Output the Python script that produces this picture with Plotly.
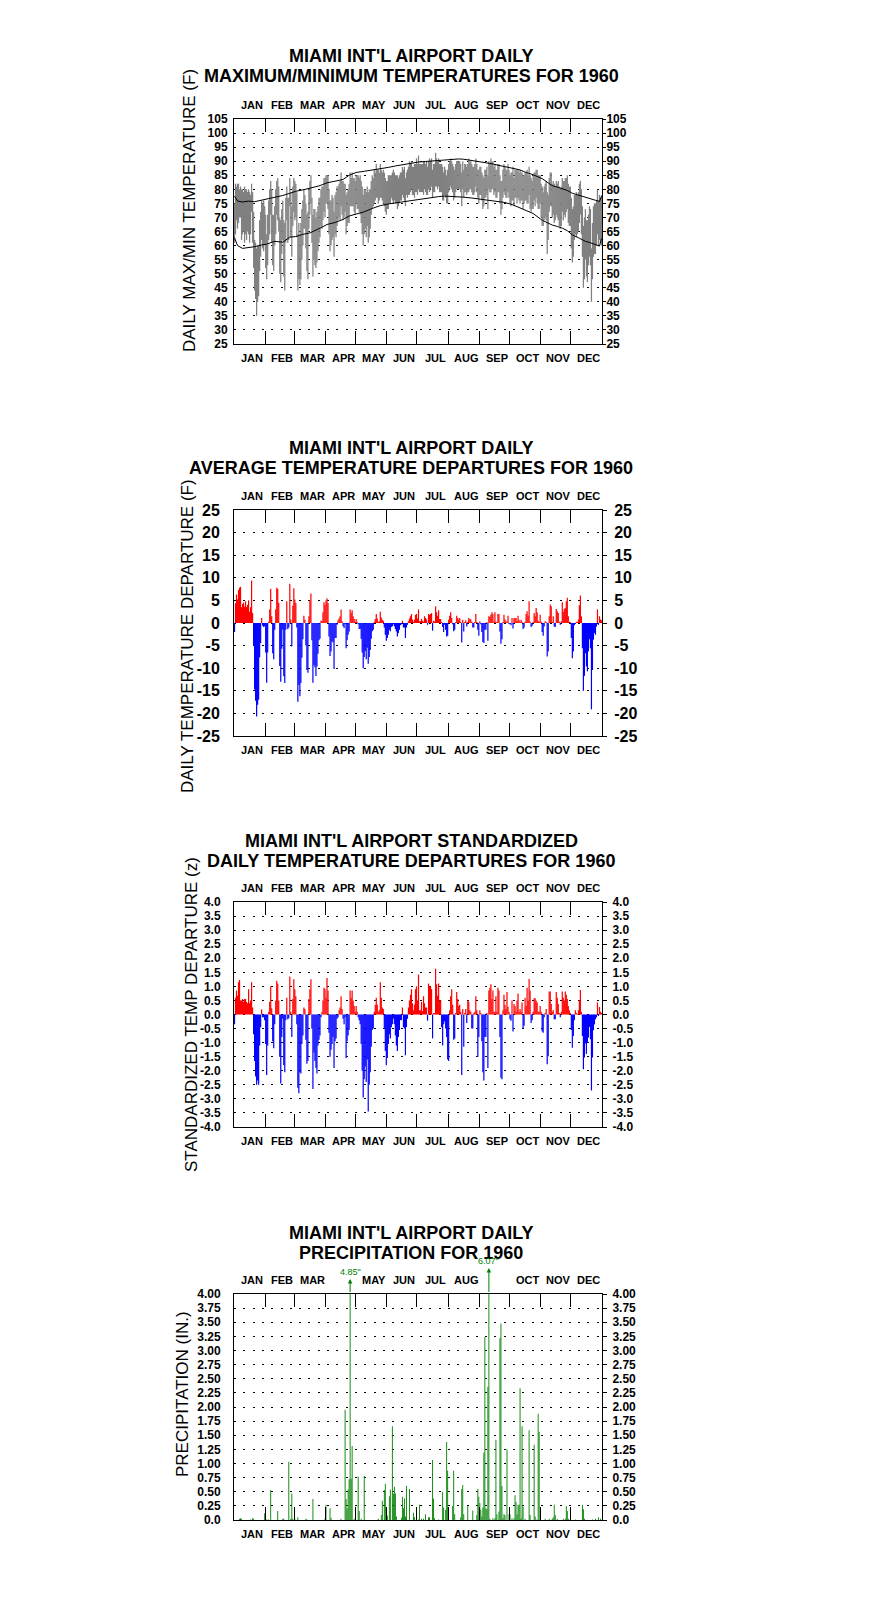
import plotly.graph_objects as go

# ---------------- data ----------------
month_names = ["JAN", "FEB", "MAR", "APR", "MAY", "JUN", "JUL", "AUG", "SEP", "OCT", "NOV", "DEC"]
month_days = [31, 29, 31, 30, 31, 30, 31, 31, 30, 31, 30, 31]

tmax = [75,82,81,82,82,80,81,80,80,79, 81,80,80,79,80,79,78,82,79,72,
        62,61,59,60,60,69,72,76,75,76, 74,71,64,71,76,80,83,80,71,71,
        74,80,83,84,81,70,69,73,76,69, 68,77,81,77,77,84,79,74,81,84,
        83,82,79,64,68,64,68,73,76,80, 78,75,71,72,80,83,85,77,71,73,
        73,70,72,74,77,77,80,81,81,84, 84,85,85,85,80,76,76,78,77,72,
        78,79,81,81,82,83,86,83,83,82, 82,78,79,80,82,86,84,86,84,84,
        83,85,85,85,84,85,83,81,78,80, 80,79,81,79,80,80,83,85,84,87,
        86,89,87,87,86,89,87,86,87,86, 84,83,83,85,85,85,85,86,87,86,
        85,85,85,84,85,86,86,88,87,88, 84,86,87,88,90,89,90,88,88,89,
        89,91,89,92,89,89,89,89,90,90, 89,90,88,90,91,90,91,87,89,89,
        93,91,90,91,89,89,89,88,86,88, 87,85,87,89,90,91,90,89,88,87,
        89,90,90,90,90,89,86,90,87,89, 89,88,89,91,90,90,89,88,88,89,
        91,89,87,87,88,88,86,85,84,87, 87,88,85,90,89,91,90,90,88,89,
        87,87,89,89,85,83,83,87,89,88, 87,87,89,87,85,86,86,88,84,87,
        87,87,87,86,87,86,86,85,85,86, 86,87,85,88,85,84,83,85,86,86,
        87,87,85,85,85,82,81,79,81,82, 83,79,78,84,86,86,82,83,82,81,
        83,82,83,81,80,81,84,83,83,84, 84,85,82,81,81,77,73,74,78,78,
        79,78,79,82,83,80,74,67,70,73, 69,69,71,74,73,59,68,74,75,75,
        76,80,76,78,77,78]

tmin = [61,64,69,66,68,70,70,62,64,65, 61,64,62,65,64,61,64,72,61,52,
        44,41,35,40,42,51,56,62,59,58, 60,52,48,53,62,64,71,61,53,51,
        60,64,71,69,65,50,47,57,62,49, 44,61,69,61,62,74,63,56,67,72,
        69,70,63,44,48,46,48,55,60,66, 66,59,51,48,66,71,75,61,49,55,
        53,52,54,58,61,63,67,66,69,72, 70,75,75,73,64,58,60,62,63,56,
        64,63,67,69,70,69,74,71,69,70, 72,64,67,68,68,74,74,74,74,72,
        71,75,73,73,72,71,68,64,60,64, 66,63,67,61,63,66,71,73,74,75,
        76,77,77,75,76,77,77,76,75,74, 72,71,73,73,75,75,77,76,75,76,
        75,75,73,74,75,76,76,78,77,76, 74,78,77,78,78,79,80,78,78,77,
        79,79,78,80,79,79,79,79,78,80, 79,78,78,80,79,80,81,77,79,79,
        81,81,80,81,79,79,79,76,76,78, 77,75,75,79,80,81,80,79,76,77,
        79,80,80,80,80,79,74,80,77,79, 79,78,79,79,80,80,79,78,78,79,
        81,79,77,75,78,78,76,73,74,77, 77,78,73,80,79,79,80,80,78,79,
        77,77,79,79,75,71,73,77,79,78, 77,77,79,77,75,74,76,76,74,77,
        77,75,77,76,75,76,76,73,75,76, 76,75,75,78,73,72,73,73,76,74,
        77,75,73,73,75,70,67,67,69,70, 69,57,62,72,74,74,70,71,68,69,
        71,70,69,67,66,67,72,69,71,70, 72,73,68,67,67,59,54,56,62,64,
        63,64,65,68,71,64,56,45,48,55, 49,47,53,56,53,40,48,56,57,57,
        60,64,60,62,61,60]

norm_day = [0,3,8,14,20,28,32,40,48,55,61,68,75,84,92,100,108,114,121,129,137,145,153,160,168,176,
            183,190,196,203,209,216,223,228,236,243,250,256,263,269,276,283,290,297,306,312,316,321,
            326,331,336,342,349,354,359,363,365]
norm_max = [77.6,75.8,75.5,75.8,75.6,76.2,76.5,77.2,77.8,78.6,79.3,79.8,80.3,81.2,82.3,82.8,83.5,85.0,
            86.0,86.4,86.8,87.3,87.8,88.3,88.8,89.3,89.7,89.9,90.1,90.4,90.6,90.7,90.8,90.7,90.3,90.0,
            89.5,89.1,88.5,88.0,87.6,87.0,86.0,85.2,83.8,82.3,81.3,80.8,80.2,79.6,78.6,77.9,77.0,76.5,
            76.1,75.7,77.5]
norm_min = [62.8,60.0,59.0,59.2,59.6,60.3,60.5,61.5,61.2,63.0,63.2,64.0,64.5,66.0,67.5,68.2,69.3,70.5,
            71.2,72.0,73.2,74.2,74.8,75.2,75.6,76.0,76.4,76.9,77.2,77.4,77.6,77.5,77.3,77.2,76.9,76.6,
            76.3,76.0,75.6,75.3,74.6,73.6,72.6,71.4,69.0,67.8,67.3,66.8,66.2,65.3,63.8,62.8,61.5,61.0,
            60.3,59.8,62.5]

dep = [-2,4.4,6.3,5.2,7.3,7.8,8.0,3.5,4.2,4.5, 3.6,4.8,3.5,4.0,5.0,2.5,3.5,9.4,2.2,-5,
       -14.7,-17.2,-20.7,-18.1,-17,-7.6,-4.4,1.1,-0.6,-0.9, -0.7,-6.5,-13.2,-6.5,0.3,3.0,7.6,1.5,-6.7,-8.0,
       -1.5,3.0,7.8,7.5,4.5,-9.5,-13,-5.7,-1.5,-11.8, -13.3,-1.5,4.8,-1.3,-1.0,8.7,0.8,-5.2,3.8,7.7,
       5.2,4.4,-1.0,-17.4,-13.7,-16.2,-13.3,-7.7,-3.6,1.6, 0.7,-5,-10.4,-11,1.5,5,6.5,-3.8,-13.2,-9.3,
       -9.8,-11.7,-9.6,-6.8,-3.8,-3.5,0.5,0.5,2.4,4.6, 4.0,5.0,5.5,4.4,-3,-7.3,-6.3,-4.1,-4.3,-10.2,
       -3.3,-3.3,-0.4,0.6,1.0,1.5,3.0,0.4,-0.7,-1.1, -0.2,-5.6,-3.8,-2.6,-1.9,3.0,2.2,2.8,1.5,0.9,
       0.3,0.9,0.3,-0.3,-1.3,-1.3,-3.5,-6.5,-10,-7.5, -6.2,-8,-5.5,-9.0,-7.5,-6.0,-3.5,-1.8,-1.5,0.3,
       0.9,2.0,1.0,0.3,0.4,2.5,1.2,0.7,0.5,-1.0, -2.6,-3.9,-3.3,-2.6,-1.5,-1.8,-0.9,-0.7,-0.3,-0.7,
       -1.3,-1.9,-3.0,-2.2,-1.5,-0.5,-0.3,0.5,-1.0,-1.0, -3.3,-1.0,-0.4,0.4,1.0,1.5,2.0,0.8,0.3,0.7,
       1.8,2.0,1.0,3.0,0.4,0.4,0.9,0.5,0.3,1.5, 1.1,0.8,-0.4,2.0,1.8,2.0,2.2,-1.7,0.5,0.3,
       3.7,2.4,1.6,2.8,0.9,0.9,0.2,-0.9,-2.0,-0.4, -1.5,-3.0,-2.8,0.7,1.6,2.4,1.1,-0.3,-1.8,-1.5,
       0.2,1.6,1.1,0.7,1.1,0.3,-4.3,0.7,-1.9,0.2, 0.6,-0.8,0.3,1.1,0.9,0.8,0.3,-1.0,-1.0,0.2,
       2.0,0.2,-1.5,-2.8,0.4,-0.3,-2.0,-4.2,-4.4,-1.5, -1.5,0.2,-3.9,1.5,1.3,1.8,2.4,2.0,0.3,2.4,
       0.3,0.2,2.0,2.0,-1.9,-4.6,-3.6,0.2,1.8,0.8, 0.4,0.3,1.6,-0.2,-0.3,-0.5,1.1,-1.2,1.1,1.1,
       1.1,0.4,1.6,0.7,0.2,0.7,0.3,-1.3,-1.0,0.3, 2.0,2.6,1.6,4.8,0.3,-0.9,-0.6,0.2,2.2,1.5,
       3.3,2.4,0.5,0.3,1.8,0.3,-2.0,-2.8,-0.8,0.4, 0.2,-7.4,-6.3,1.5,4.1,3.7,0.2,1.5,-0.8,-0.9,
       3.1,2.6,2.2,0.3,-0.4,0.4,4.6,2.5,3.1,3.3, 4.8,5.6,1.5,0.3,0.2,-3.3,-7.8,-6.3,-0.5,-0.2,
       0.3,0.2,0.8,3.9,6.1,1.5,-5.6,-15.0,-11.7,-6.7, -9.6,-10.7,-6.3,-3.6,-5.6,-19.1,-10.4,-3.7,-2.2,-2.6,
       -0.8,3.0,-0.4,1.5,0.8,0.6]

zdep = [-0.35,0.6,0.85,0.67,1.15,1.23,0.5,0.5,0.55,0.45, 0.55,0.55,0.45,0.4,0.9,0.4,0.5,1.15,0.25,-0.7,
        -1.65,-2.2,-2.5,-2.35,-2.5,-1.1,-0.45,0.18,-0.1,-0.1, -0.2,-1.05,-2.15,-1.1,0.1,0.45,1.0,0.22,-0.95,-1.2,
        -0.35,0.5,1.2,1.1,0.5,-1.5,-2.45,-0.8,-0.15,-1.8, -2.05,-0.2,0.6,-0.17,-0.13,1.35,0.1,-0.8,0.55,1.25,
        0.9,0.65,-0.35,-2.6,-2.8,-2.05,-2.1,-1.05,-0.75,0.25, 0.2,-0.9,-1.75,-1.65,0.55,0.9,1.25,-0.5,-2.65,-1.35,
        -1.65,-1.9,-2.1,-1.1,-0.9,-0.75,-0.1,0.1,0.5,0.95, 0.9,0.6,1.3,0.85,-0.65,-1.5,-1.25,-1.05,-0.8,-1.9,
        -0.95,-0.85,-0.15,-0.1,0.15,0.25,0.65,0.2,-0.15,-0.35, -0.1,-1.55,-0.95,-0.75,-0.55,0.85,0.6,0.85,0.5,0.3,
        0.1,0.3,0.1,-0.1,-0.2,-0.35,-1.05,-2.0,-2.95,-2.3, -1.85,-2.4,-1.6,-3.45,-2.5,-2.05,-1.15,-0.55,-0.5,0.1,
        0.35,0.6,0.35,0.1,0.15,1.15,0.6,0.25,0.2,-0.5, -1.3,-1.8,-1.55,-1.05,-0.7,-0.85,-0.45,-0.35,-0.15,-0.35,
        -0.75,-1.1,-1.3,-0.8,-0.55,-0.2,-0.2,0.25,-0.45,-0.5, -1.45,-0.45,-0.15,0.25,0.5,0.7,0.9,0.4,0.15,0.35,
        0.9,1.0,0.5,1.42,0.15,0.15,0.45,0.12,0.65,0.4, 0.25,0.25,-0.22,1.1,1.0,1.0,0.9,-0.85,0.05,0.05,
        1.63,1.08,0.67,1.1,0.5,0.5,-0.45,-1.1,-0.35,-0.25, -0.5,-0.8,-1.6,-1.65,0.15,0.65,0.9,0.35,-0.9,-0.85,
        0.05,0.8,0.55,0.3,0.35,0.1,-2.15,0.2,-1.15,0.05, 0.2,-0.3,0.5,0.45,0.15,0.1,-0.5,-0.5,0.05,0.1,
        0.65,0.15,-1.5,-0.8,0.15,0.05,-0.95,-2.05,-2.35,-0.8, -0.8,0.05,-1.9,0.85,0.95,1.08,0.55,0.85,0.1,0.1,
        0.65,0.1,0.95,0.85,-0.8,-2.25,-2.3,0.15,0.7,0.35, 0.2,0.8,0.28,0.1,-0.17,-0.22,0.5,-0.6,0.37,0.3,
        0.1,0.5,0.75,0.1,0.2,0.1,0.43,-0.5,-0.4,0.6, 0.3,0.95,0.5,1.26,0.85,-0.3,-0.2,0.1,0.58,0.58,
        0.5,0.43,0.1,0.1,0.3,0.1,-0.6,-0.65,-0.1,0.05, 0.2,-1.77,-1.48,0.82,0.82,0.37,0.1,0.15,-0.17,-0.17,
        0.8,0.6,0.37,0.05,-0.1,0.1,0.82,0.6,0.5,0.82, 0.7,0.55,0.3,0.15,0.05,-0.55,-1.18,-0.76,-0.2,0.15,
        0.05,0.02,0.15,0.5,0.87,0.1,-0.76,-1.95,-1.53,-1.03, -1.4,-1.0,-0.82,-0.44,-0.88,-2.7,-1.53,-0.56,-0.35,-0.17,
        -0.1,0.43,-0.05,0.27,0.1,0.05]

# precipitation: day index (0 = Jan 1) and inches, days without rain omitted
rain_day = [5,6,7,16,18,19,30,32,34,36,43,48,49,54,56,57,58,60,63,71,72,78,90,91,95,96,106,
            110,111,112,113,114,115,116,117,119,123,124,126,129,143,146,147,149,150,151,152,154,
            155,157,158,159,160,161,166,167,168,169,170,171,174,178,179,183,184,186,188,190,193,
            194,197,198,199,203,207,208,210,211,212,213,217,218,219,225,226,227,228,232,237,241,
            242,243,244,245,246,247,248,249,250,251,252,253,254,257,259,260,261,263,264,265,266,
            267,268,269,271,273,274,276,278,279,280,281,282,283,284,285,286,287,289,293,294,298,
            299,300,302,303,304,309,313,316,317,318,319,321,327,329,330,331,332,339,346,347,348,
            356,359,362,364]
rain_in = [0.02,0.03,0.02,0.01,0.03,0.02,0.12,0.01,0.01,0.53,0.16,0.02,0.02,1.03,0.02,0.47,0.02,0.02,
           0.05,0.02,0.01,0.37,0.02,0.27,0.21,0.04,0.02,
           1.95,0.37,0.21,0.54,0.72,4.85,0.73,1.31,0.02,0.77,0.16,0.02,0.78,0.02,0.09,0.34,0.53,0.64,
           0.18,0.08,0.42,
           0.54,1.66,0.47,0.59,0.47,0.06,0.04,0.41,0.21,0.38,0.06,0.60,0.55,0.13,0.05,0.01,0.27,0.02,
           0.02,0.10,0.05,
           0.05,1.06,0.38,0.03,0.01,0.50,0.22,0.18,1.38,0.87,0.01,0.25,0.87,0.10,0.05,0.55,0.62,0.10,
           0.25,0.17,0.09,
           0.55,0.41,0.30,0.18,0.06,0.22,1.19,3.24,0.21,0.19,2.36,6.07,0.02,0.03,0.03,1.42,0.10,0.15,
           3.22,3.48,0.60,
           0.03,0.10,0.09,1.25,0.10,0.10,0.03,0.03,0.44,0.32,0.10,0.27,0.27,2.33,0.03,1.66,0.24,0.02,
           1.59,0.09,1.33,
           0.06,0.01,1.88,1.56,0.01,0.02,0.02,0.02,0.05,0.27,0.09,0.02,0.02,0.02,0.25,0.16,0.02,0.01,
           0.27,0.19,0.02,
           0.01,0.02,0.05,0.02]

titles = [["MIAMI INT'L AIRPORT DAILY", "MAXIMUM/MINIMUM TEMPERATURES FOR 1960"],
          ["MIAMI INT'L AIRPORT DAILY", "AVERAGE TEMPERATURE DEPARTURES FOR 1960"],
          ["MIAMI INT'L AIRPORT STANDARDIZED", "DAILY TEMPERATURE DEPARTURES FOR 1960"],
          ["MIAMI INT'L AIRPORT DAILY", "PRECIPITATION FOR 1960"]]
ytitles = ["DAILY MAX/MIN TEMPERATURE (F)", "DAILY TEMPERATURE DEPARTURE (F)",
           "STANDARDIZED TEMP DEPARTURE (z)", "PRECIPITATION (IN.)"]

temp_ticks = list(range(25, 106, 5))
dep_ticks = list(range(-25, 26, 5))
z_ticks = [x / 2 for x in range(-8, 9)]
rain_ticks = [x / 4 for x in range(0, 17)]

# ---------------- layout constants (pixels) ----------------
W, H = 876, 1606
FONT = "Liberation Sans, Arial, Helvetica, sans-serif"
PL, PR = 234, 602
panels = [(119, 344), (510, 736), (902, 1127), (1294, 1520)]
title_y = [(56, 76), (448, 468), (841, 861), (1233, 1253)]
ytitle_xy = [(190, 211), (187, 636), (191, 1015), (182, 1394)]
tick_size = [12, 16, 12, 12]
left_standoff = [3, 10, 10, 10]
right_ticklen = [3, 4, 4, 4]
right_standoff = [-2, 4, 3, 3]


def px(x):
    return x / W


def py(y):
    return 1 - y / H


ndays = sum(month_days)
bounds = []
acc = 0
for m in month_days[:-1]:
    acc += m
    bounds.append(acc)
starts = [0] + bounds
centers = [s + m / 2 for s, m in zip(starts, month_days)]

days = [d + 0.5 for d in range(ndays)]

fig = go.Figure()

# panel 1: daily max/min bars + normals
fig.add_trace(go.Bar(x=days, y=[a - b for a, b in zip(tmax, tmin)], base=tmin, width=1.25,
                     marker=dict(color="#808080", line=dict(width=0)), xaxis="x", yaxis="y"))
fig.add_trace(go.Scatter(x=[d + 0.5 for d in norm_day], y=norm_max, mode="lines",
                         line=dict(color="black", width=1), xaxis="x", yaxis="y"))
fig.add_trace(go.Scatter(x=[d + 0.5 for d in norm_day], y=norm_min, mode="lines",
                         line=dict(color="black", width=1), xaxis="x", yaxis="y"))

# panel 2: departures
fig.add_trace(go.Bar(x=days, y=dep, width=1.2,
                     marker=dict(color=["#ff0000" if v >= 0 else "#0000ff" for v in dep], line=dict(width=0)),
                     xaxis="x2", yaxis="y2"))
# panel 3: standardized departures
fig.add_trace(go.Bar(x=days, y=zdep, width=1.2,
                     marker=dict(color=["#ff0000" if v >= 0 else "#0000ff" for v in zdep], line=dict(width=0)),
                     xaxis="x3", yaxis="y3"))
# panel 4: precipitation
fig.add_trace(go.Bar(x=[d + 0.5 for d in rain_day], y=rain_in, width=0.9,
                     marker=dict(color="#008000", line=dict(width=0)), xaxis="x4", yaxis="y4"))

# dummy traces so right-hand mirror axes are drawn
for i in range(4):
    fig.add_trace(go.Scatter(x=[None], y=[None], xaxis="x" if i == 0 else f"x{i+1}",
                             yaxis=f"y{i+5}", hoverinfo="skip"))

ranges = [[25, 105], [-25, 25], [-4, 4], [0, 4]]
tickvals = [temp_ticks, dep_ticks, z_ticks, rain_ticks]
ticktexts = [[str(v) for v in temp_ticks],
             [str(v) for v in dep_ticks],
             [f"{v:.1f}" for v in z_ticks],
             ["0.0" if v == 0 else f"{v:.2f}" for v in rain_ticks]]

layout = dict(width=W, height=H, margin=dict(l=0, r=0, t=0, b=0, pad=0, autoexpand=False), autosize=False,
              paper_bgcolor="white", plot_bgcolor="white", showlegend=False,
              font=dict(family=FONT, color="black"), barmode="overlay")

annotations = []
for i, (top, bot) in enumerate(panels):
    xn = "xaxis" if i == 0 else f"xaxis{i+1}"
    yn = "yaxis" if i == 0 else f"yaxis{i+1}"
    xr = "x" if i == 0 else f"x{i+1}"
    yr = "y" if i == 0 else f"y{i+1}"
    dom_y = [py(bot), py(top)]
    layout[xn] = dict(domain=[px(PL), px(PR)], range=[0, ndays], anchor=yr,
                      tickvals=bounds, ticks="inside", ticklen=13, tickwidth=1, tickcolor="black",
                      mirror="ticks", showline=True, linecolor="black", linewidth=1,
                      showticklabels=False, showgrid=False, zeroline=False, fixedrange=True,
                      automargin=False)
    layout[yn] = dict(domain=dom_y, range=ranges[i], anchor=xr,
                      tickvals=tickvals[i], ticktext=ticktexts[i], ticks="",
                      tickfont=dict(family=FONT, size=tick_size[i], color="black", weight="bold"),
                      ticklabelstandoff=left_standoff[i],
                      showline=True, mirror=True, linecolor="black", linewidth=1,
                      showgrid=True, gridcolor="black", gridwidth=1, griddash="2px,7.3px",
                      zeroline=False, fixedrange=True, automargin=False)
    layout[f"yaxis{i+5}"] = dict(overlaying=yr, side="right", anchor=xr, range=ranges[i],
                                 tickvals=tickvals[i], ticktext=ticktexts[i], ticks="outside",
                                 ticklen=right_ticklen[i], tickwidth=1, tickcolor="black",
                                 tickfont=dict(family=FONT, size=tick_size[i], color="black", weight="bold"),
                                 ticklabelstandoff=right_standoff[i], automargin=False,
                                 showline=False, showgrid=False, zeroline=False, fixedrange=True)

    # titles
    for line, ty in zip(titles[i], title_y[i]):
        annotations.append(dict(text=line, x=px(411), y=py(ty), xref="paper", yref="paper",
                                xanchor="center", yanchor="middle", showarrow=False,
                                font=dict(family=FONT, size=18, color="black", weight="bold")))
    # y title
    tx, tyy = ytitle_xy[i]
    annotations.append(dict(text=ytitles[i], x=px(tx), y=py(tyy), xref="paper", yref="paper",
                            xanchor="center", yanchor="middle", textangle=-90, showarrow=False,
                            font=dict(family=FONT, size=17, color="black")))
    # month labels top and bottom
    for name, c in zip(month_names, centers):
        skip_top = False
        if i == 3:
            # top labels hidden where the off-scale precipitation labels sit
            for d, v in zip(rain_day, rain_in):
                if v > ranges[3][1] and abs(d - c) < 16:
                    skip_top = True
        for yy, is_top in ((top - 14, True), (bot + 14, False)):
            if is_top and skip_top:
                continue
            annotations.append(dict(text=name, x=c + 2.5, y=py(yy), xref=xr, yref="paper",
                                    xanchor="center", yanchor="middle", showarrow=False,
                                    font=dict(family=FONT, size=11, color="black", weight="bold")))

# off-scale precipitation arrows and labels
for d, v in zip(rain_day, rain_in):
    if v > ranges[3][1]:
        shift = 15 + (v - 4.85) * 9
        annotations.append(dict(text=" ", x=d + 0.5, y=ranges[3][1], xref="x4", yref="y4",
                                showarrow=True, arrowhead=2, arrowsize=0.9, arrowwidth=1,
                                arrowcolor="#008000", ax=0, ay=shift, yshift=shift,
                                font=dict(size=1)))
        annotations.append(dict(text=f'{v:.2f}"', x=d + 0.5, y=ranges[3][1], xref="x4", yref="y4",
                                showarrow=False, yanchor="bottom", xanchor="center", yshift=shift,
                                font=dict(family=FONT, size=9, color="#008000")))

layout["annotations"] = annotations
fig.update_layout(**layout)

fig.write_html("out.html", config={"displayModeBar": False, "staticPlot": True},
               post_script="document.documentElement.style.margin='0px';document.body.style.margin='0px';")
